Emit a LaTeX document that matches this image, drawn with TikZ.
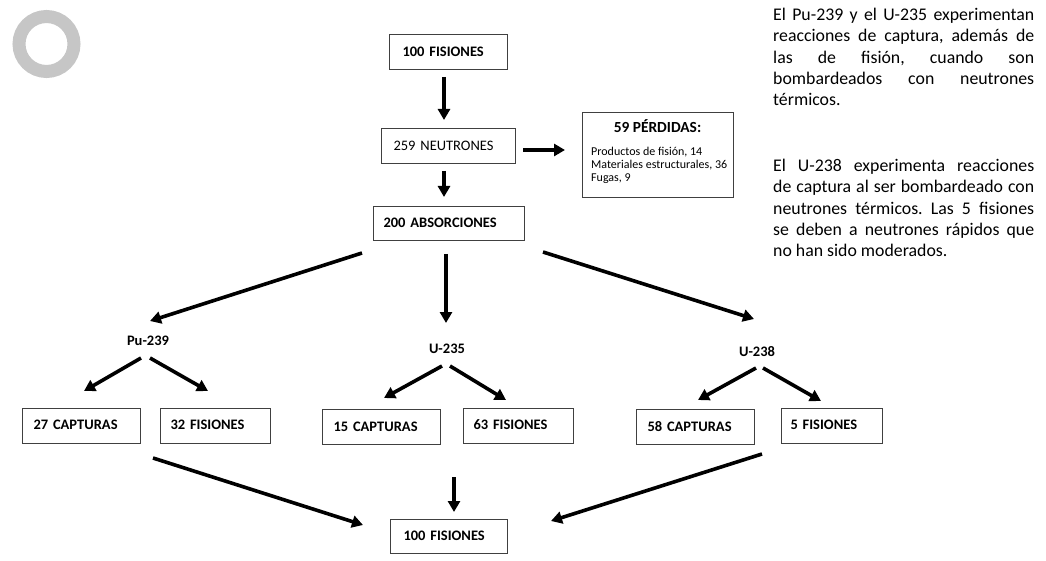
\documentclass[tikz,border=0pt]{standalone}
\usepackage{fontspec}
\setmainfont{Carlito}
\usetikzlibrary{arrows.meta}
\frenchspacing
\begin{document}
\begin{tikzpicture}[x=1pt,y=-1pt,
  boxst/.style={draw=black!75,line width=0.8pt,rectangle,anchor=center,
     inner ysep=0pt,align=left,font=\fontsize{14.5}{16}\selectfont\bfseries},
  lbl/.style={font=\fontsize{14.5}{16}\selectfont\bfseries,inner sep=0pt},
  arr/.style={line width=3.6pt,-{Triangle[length=11pt,width=12pt]}},
  para/.style={text width=261pt,inner sep=0pt,anchor=north west,align=justify,
     font=\fontsize{17.8}{21.3}\selectfont}]
\useasboundingbox (0,0) rectangle (1046,561);
% ring
\draw[gray!45,line width=13pt] (46.5,44) circle (27.5);
\newcommand{\mybx}[8][]{%
  \node[boxst,#1,minimum width=#5pt,minimum height=#6pt,inner xsep=#7pt,text width=#5pt-2*#7pt-1pt] (#2) at (#3,#4) {#8};}
\mybx{f1}{448}{51.5}{118}{35}{13}{100 FISIONES}
\mybx[font=\fontsize{14.5}{16}\selectfont]{n2}{448}{145.5}{134}{35}{12}{259 NEUTRONES}
\mybx{ab}{448.5}{223}{151}{34}{10}{200 ABSORCIONES}
\mybx{c27}{81}{425.5}{118}{35}{11}{27 CAPTURAS\vphantom{p}}
\mybx{f32}{215}{425.5}{110}{35}{10}{32 FISIONES\vphantom{p}}
\mybx{c15}{381}{426.5}{118}{35}{11}{15 CAPTURAS}
\mybx{f63}{518}{425.5}{110}{35}{10}{63 FISIONES\vphantom{p}}
\mybx{c58}{695}{426.5}{118}{35}{11}{58 CAPTURAS}
\mybx{f5}{831.5}{425.5}{101}{35}{9}{5 FISIONES\vphantom{p}}
\mybx{fb}{448.5}{536}{117}{34}{13}{100 FISIONES}
% losses box
\node[draw=black!75,line width=0.8pt,minimum width=151pt,minimum height=85pt,inner sep=0pt] (loss) at (657.5,154.5) {};
\node[font=\fontsize{15.4}{17}\selectfont\bfseries,inner sep=0pt] (losst) at (657.5,126.5) {59 PÉRDIDAS:};
\node[inner sep=0pt,anchor=north west,align=left,font=\fontsize{12}{13}\selectfont] (lossi) at (591,147)
  {Productos de fisión, 14\\Materiales estructurales, 36\\Fugas, 9};
% isotope labels
\node[lbl] (pu) at (148,341) {Pu-239};
\node[lbl] (u5) at (447,349) {U-235};
\node[lbl] (u8) at (757,352) {U-238};
% arrow ends
\coordinate (a1s) at (444,77);  \coordinate (a1e) at (444,120);
\coordinate (a2s) at (523,150); \coordinate (a2e) at (565,150);
\coordinate (a3s) at (444,171); \coordinate (a3e) at (444,197);
\coordinate (a4s) at (362,253); \coordinate (a4e) at (150,321);
\coordinate (a5s) at (446,254); \coordinate (a5e) at (446,323);
\coordinate (a6s) at (543,252); \coordinate (a6e) at (754,319);
\coordinate (a7s) at (141,358); \coordinate (a7e) at (84,391);
\coordinate (a8s) at (150,358); \coordinate (a8e) at (208,391);
\coordinate (a9s) at (442,366); \coordinate (a9e) at (384,398);
\coordinate (b1s) at (450,366); \coordinate (b1e) at (506,400);
\coordinate (b2s) at (756,368); \coordinate (b2e) at (698,400);
\coordinate (b3s) at (763,368); \coordinate (b3e) at (821,401);
\coordinate (b4s) at (153,458); \coordinate (b4e) at (363,525);
\coordinate (b5s) at (454,477); \coordinate (b5e) at (454,512);
\coordinate (b6s) at (762,454); \coordinate (b6e) at (551,521);
\foreach \s/\e in {a1s/a1e,a2s/a2e,a3s/a3e,a4s/a4e,a5s/a5e,a6s/a6e,a7s/a7e,a8s/a8e,a9s/a9e,b1s/b1e,b2s/b2e,b3s/b3e,b4s/b4e,b5s/b5e,b6s/b6e}
  \draw[arr] (\s) -- (\e);
% paragraphs
\node[para] (p1) at (773,8) {El Pu-239 y el U-235 experimentan\linebreak reacciones de captura, además de\linebreak las de fisión, cuando son\linebreak bombardeados con neutrones\linebreak térmicos.};
\node[para] (p2) at (773,159) {El U-238 experimenta reacciones\linebreak de captura al ser bombardeado con\linebreak neutrones térmicos. Las 5 fisiones\linebreak se deben a neutrones rápidos que\linebreak no han sido moderados.};
\end{tikzpicture}
\end{document}
